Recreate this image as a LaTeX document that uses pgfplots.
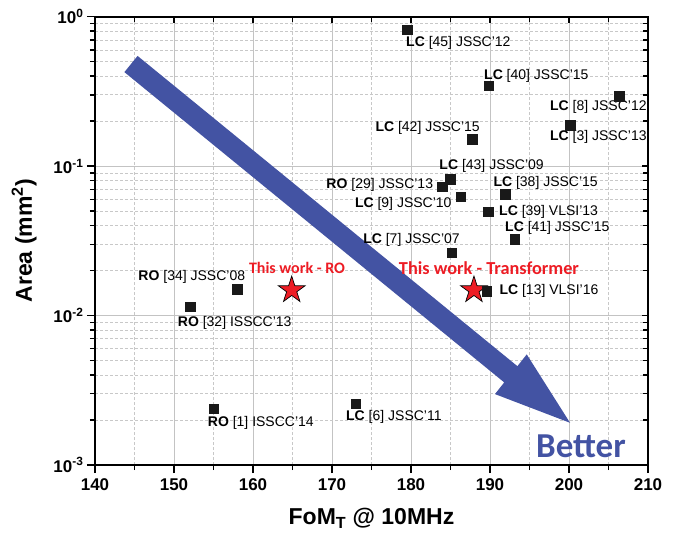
\documentclass[border=0pt]{standalone}
\usepackage{pgfplots}
\pgfplotsset{compat=1.18}
\usepackage{fontspec}
\setmainfont{Liberation Sans}
\newfontfamily\calfont{Carlito}
\definecolor{arrowblue}{RGB}{67,83,163}
\definecolor{starred}{RGB}{237,28,36}
\definecolor{majgrid}{RGB}{195,195,195}
\definecolor{mingrid}{RGB}{200,200,200}
\definecolor{sqcol}{RGB}{25,25,25}
\newcommand{\lab}[2]{\textbf{#1} #2}
\pgfdeclareplotmark{fstar}{%
  \pgfpathmoveto{\pgfpointpolar{90}{\pgfplotmarksize}}%
  \pgfpathlineto{\pgfpointpolar{126}{0.382\pgfplotmarksize}}%
  \pgfpathlineto{\pgfpointpolar{162}{\pgfplotmarksize}}%
  \pgfpathlineto{\pgfpointpolar{198}{0.382\pgfplotmarksize}}%
  \pgfpathlineto{\pgfpointpolar{234}{\pgfplotmarksize}}%
  \pgfpathlineto{\pgfpointpolar{270}{0.382\pgfplotmarksize}}%
  \pgfpathlineto{\pgfpointpolar{306}{\pgfplotmarksize}}%
  \pgfpathlineto{\pgfpointpolar{342}{0.382\pgfplotmarksize}}%
  \pgfpathlineto{\pgfpointpolar{18}{\pgfplotmarksize}}%
  \pgfpathlineto{\pgfpointpolar{54}{0.382\pgfplotmarksize}}%
  \pgfpathclose
  \pgfusepathqfillstroke
}
\begin{document}
\begin{tikzpicture}
\useasboundingbox (-95pt,-68pt) rectangle (582pt,465pt);
\begin{axis}[
  width=553pt, height=448.3pt, scale only axis,
  xmin=140, xmax=210, ymin=1e-3, ymax=1, ymode=log,
  xtick={140,150,...,210}, minor xtick={145,155,...,205},
  xticklabels={140,150,160,170,180,190,200,210},
  ytick={0.001,0.01,0.1,1},
  minor ytick={0.002,0.003,0.004,0.005,0.006,0.007,0.008,0.009,0.02,0.03,0.04,0.05,0.06,0.07,0.08,0.09,0.2,0.3,0.4,0.5,0.6,0.7,0.8,0.9},
  yticklabels={10\textsuperscript{-3},10\textsuperscript{-2},10\textsuperscript{-1},10\textsuperscript{0}},
  tick align=outside, xtick pos=left, ytick pos=left,
  major tick length=8pt, minor tick length=5pt,
  grid=both,
  major grid style={majgrid, line width=0.8pt},
  minor grid style={mingrid, line width=0.7pt, dash pattern=on 3pt off 2pt},
  axis line style={line width=1.8pt},
  every tick/.style={black, line width=1.4pt},
  tick label style={font=\fontsize{17}{20}\selectfont\bfseries},
  xticklabel style={yshift=-2pt},
  label style={font=\fontsize{23}{26}\selectfont\bfseries},
  xlabel={FoM\textsubscript{T} @ 10MHz},
  ylabel={Area (mm\textsuperscript{2})},
  xlabel style={at={(axis description cs:0.5,-0.119)}, anchor=center},
  ylabel style={at={(axis description cs:-0.128,0.5)}, anchor=center},
  clip=false,
]
% big arrow
\addplot[fill=arrowblue, draw=none] coordinates {
  (143.72,0.4257) (145.39,0.5465) (193.47,0.004585) (194.65,0.005498)
  (200.13,0.001917) (190.63,0.002982) (191.80,0.003572)
} -- cycle;
% stars (this work)
\addplot[only marks, mark=fstar, mark size=14pt, mark options={fill=starred, draw=black, line width=0.7pt}] coordinates {
  (164.9,0.0148) (187.97,0.0148)
};
% prior art
\addplot[only marks, mark=square*, mark size=4.7pt, mark options={fill=sqcol, draw=sqcol}] coordinates {
  (179.53,0.82) (189.87,0.345) (206.37,0.294) (200.13,0.1875) (187.76,0.151)
  (184.94,0.0816) (183.96,0.0728) (186.29,0.0624) (191.90,0.065) (189.78,0.0495)
  (193.16,0.0324) (185.15,0.0263) (189.58,0.0146) (158.01,0.015) (152.03,0.0115)
  (155.06,0.00239) (173.0,0.00258)
};
\begin{scope}[every node/.style={inner sep=0pt, font=\fontsize{14}{16}\selectfont}]
\node[anchor=west] at (axis cs:179.37,0.670) {\lab{LC}{[45] JSSC'12}};
\node[anchor=west] at (axis cs:189.24,0.401) {\lab{LC}{[40] JSSC'15}};
\node[anchor=west] at (axis cs:197.59,0.2475) {\lab{LC}{[8] JSSC'12}};
\node[anchor=west] at (axis cs:197.59,0.157) {\lab{LC}{[3] JSSC'13}};
\node[anchor=east] at (axis cs:188.73,0.1807) {\lab{LC}{[42] JSSC'15}};
\node[anchor=west] at (axis cs:183.58,0.1002) {\lab{LC}{[43] JSSC'09}};
\node[anchor=east] at (axis cs:182.82,0.0755) {\lab{RO}{[29] JSSC'13}};
\node[anchor=east] at (axis cs:185.15,0.0555) {\lab{LC}{[9] JSSC'10}};
\node[anchor=west] at (axis cs:190.42,0.0774) {\lab{LC}{[38] JSSC'15}};
\node[anchor=west] at (axis cs:191.14,0.0495) {\lab{LC}{[39] VLSI'13}};
\node[anchor=west] at (axis cs:191.90,0.0387) {\lab{LC}{[41] JSSC'15}};
\node[anchor=east] at (axis cs:186.20,0.0320) {\lab{LC}{[7] JSSC'07}};
\node[anchor=west] at (axis cs:191.18,0.01466) {\lab{LC}{[13] VLSI'16}};
\node[anchor=west] at (axis cs:145.48,0.01802) {\lab{RO}{[34] JSSC'08}};
\node[anchor=west] at (axis cs:150.47,0.0090) {\lab{RO}{[32] ISSCC'13}};
\node[anchor=west] at (axis cs:154.27,0.0019) {\lab{RO}{[1] ISSCC'14}};
\node[anchor=west] at (axis cs:171.77,0.0021) {\lab{LC}{[6] JSSC'11}};
\end{scope}
\node[anchor=center, inner sep=0pt, text=starred, font=\calfont\bfseries\fontsize{16}{18}\selectfont] at (axis cs:165.57,0.0208) {This work - RO};
\node[anchor=center, inner sep=0pt, text=starred, font=\calfont\bfseries\fontsize{18.3}{20}\selectfont] at (axis cs:189.87,0.0208) {This work - Transformer};
\node[anchor=base west, inner sep=0pt, text=arrowblue, font=\calfont\bfseries\fontsize{35}{40}\selectfont] at (axis cs:195.82,0.001125) {Better};
\end{axis}
\begin{axis}[
  width=553pt, height=448.3pt, scale only axis,
  xmin=140, xmax=210, ymin=1e-3, ymax=1, ymode=log,
  xtick={140,150,...,210}, minor xtick={145,155,...,205},
  ytick={0.001,0.01,0.1,1},
  minor ytick={0.002,0.003,0.004,0.005,0.006,0.007,0.008,0.009,0.02,0.03,0.04,0.05,0.06,0.07,0.08,0.09,0.2,0.3,0.4,0.5,0.6,0.7,0.8,0.9},
  xticklabels={}, yticklabels={},
  tick align=inside, xtick pos=right, ytick pos=right,
  major tick length=6pt, minor tick length=5pt,
  axis line style={line width=1.8pt},
  every tick/.style={black, line width=1.4pt},
]
\end{axis}
\end{tikzpicture}
\end{document}
